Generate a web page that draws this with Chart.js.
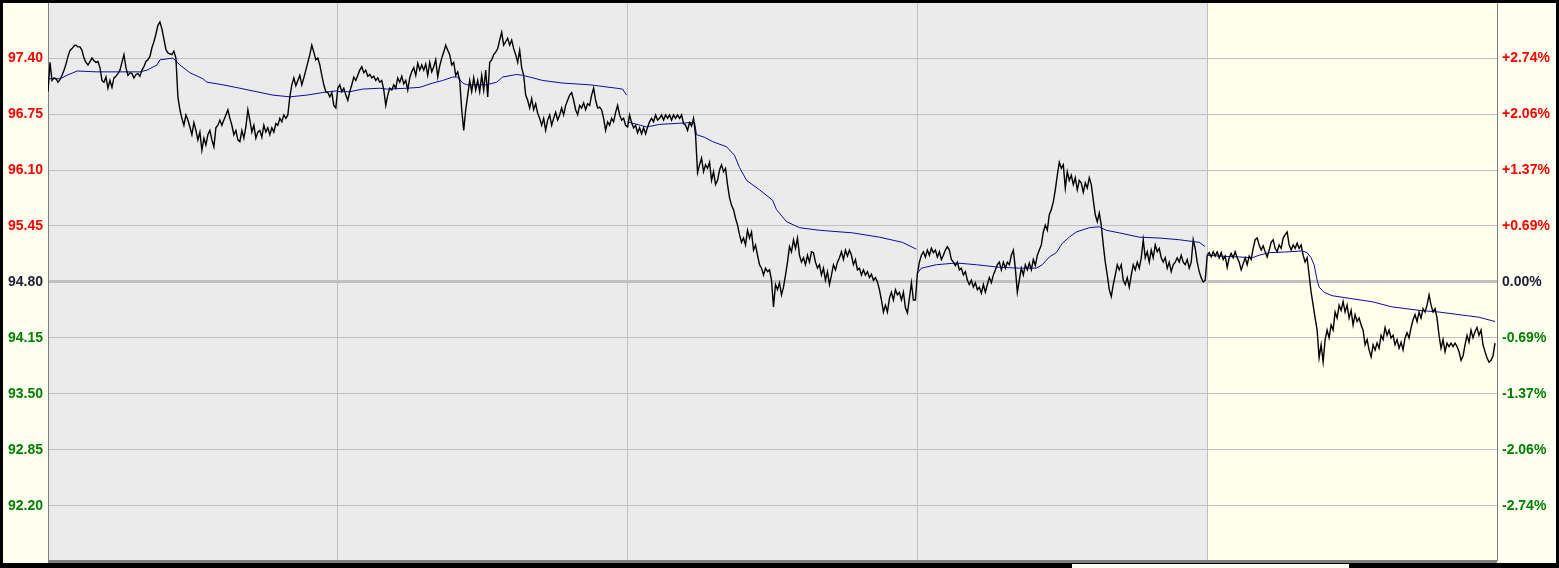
<!DOCTYPE html>
<html>
<head>
<meta charset="utf-8">
<script src="https://cdn.jsdelivr.net/npm/chart.js@4.4.1/dist/chart.umd.min.js"></script>
<style>
    html, body { margin: 0; padding: 0; background: #000; }
    #wrap { width: 1559px; height: 568px; }
</style>
</head>
<body>
<div id="wrap"><canvas id="priceChart" width="1559" height="568"></canvas></div>
<script>
// bars: each session is 290 bars wide, close sampled every 2 bars
const barsPerDay = 290;
const sampleStep = 2;
const basePrice = 94.80;
const axisMin = 91.57;
const axisMax = 98.04;
const priceTicks = [92.20, 92.85, 93.50, 94.15, 94.80, 95.45, 96.10, 96.75, 97.40];

const day1Close = [97.01,97.35,97.14,97.17,97.16,97.12,97.15,97.20,97.26,97.33,97.42,97.49,97.51,97.54,97.55,97.53,97.53,97.49,97.40,97.35,
    97.32,97.36,97.40,97.37,97.35,97.36,97.29,97.14,97.12,97.18,97.05,97.14,97.06,97.17,97.19,97.22,97.26,97.35,97.44,97.29,
    97.20,97.23,97.22,97.17,97.21,97.22,97.19,97.26,97.30,97.36,97.38,97.42,97.52,97.59,97.68,97.78,97.82,97.74,97.62,97.50,
    97.46,97.45,97.44,97.48,97.40,96.95,96.80,96.70,96.62,96.74,96.68,96.60,96.51,96.65,96.56,96.45,96.54,96.33,96.47,96.39,
    96.51,96.56,96.45,96.37,96.59,96.62,96.68,96.62,96.68,96.74,96.80,96.70,96.62,96.51,96.56,96.45,96.43,96.56,96.47,96.60,
    96.80,96.68,96.54,96.62,96.47,96.54,96.56,96.48,96.62,96.54,96.59,96.51,96.59,96.54,96.64,96.62,96.70,96.66,96.74,96.70,
    96.74,96.95,97.09,97.17,97.08,97.14,97.20,97.09,97.17,97.26,97.35,97.44,97.55,97.47,97.38,97.40,97.32,97.20,97.09,97.01,
    97.00,96.95,97.00,96.85,96.82];
const day2Close = [97.05,97.09,97.01,97.05,96.97,96.91,97.01,97.09,97.18,97.14,97.20,97.26,97.30,97.23,97.26,97.19,97.21,97.17,97.19,97.14,
    97.17,97.12,97.14,97.03,96.85,96.97,97.05,97.03,97.09,97.05,97.17,97.12,97.19,97.10,97.14,97.03,97.17,97.24,97.29,97.20,
    97.34,97.26,97.32,97.26,97.33,97.20,97.35,97.24,97.30,97.38,97.18,97.31,97.40,97.47,97.55,97.49,97.44,97.32,97.35,97.20,
    97.24,97.14,96.80,96.56,96.80,96.97,97.14,97.01,97.17,97.03,97.14,97.01,97.20,97.03,97.26,96.95,97.35,97.38,97.44,97.47,
    97.51,97.61,97.70,97.55,97.59,97.63,97.55,97.61,97.51,97.44,97.35,97.49,97.29,97.20,96.97,96.91,96.82,96.93,96.80,96.87,
    96.76,96.70,96.62,96.70,96.56,96.68,96.74,96.62,96.70,96.77,96.68,96.74,96.82,96.74,96.85,96.91,96.97,97.00,96.91,96.80,
    96.74,96.85,96.82,96.88,96.80,96.87,96.85,96.97,97.05,96.91,96.82,96.83,96.80,96.70,96.56,96.66,96.62,96.70,96.66,96.77,
    96.85,96.74,96.68,96.70,96.62];
const day3Close = [96.60,96.74,96.65,96.59,96.62,96.53,96.59,96.52,96.59,96.52,96.60,96.66,96.70,96.66,96.74,96.68,96.70,96.74,96.68,96.74,
    96.70,96.74,96.68,96.74,96.70,96.74,96.70,96.74,96.64,96.62,96.56,96.65,96.61,96.70,96.51,96.07,96.16,96.24,96.08,96.16,
    96.12,96.19,95.98,96.08,95.93,95.98,96.10,96.16,96.08,96.12,95.93,95.78,95.69,95.64,95.54,95.46,95.35,95.26,95.31,95.23,
    95.40,95.31,95.38,95.17,95.23,95.11,95.00,94.96,94.88,94.96,94.92,94.94,94.82,94.51,94.77,94.71,94.79,94.65,94.74,94.88,
    95.03,95.21,95.15,95.29,95.19,95.31,95.11,95.03,95.08,95.00,95.11,95.03,95.15,95.14,95.03,94.96,95.00,94.88,94.96,94.82,
    94.92,94.77,94.88,95.00,94.94,95.03,95.08,95.15,95.06,95.17,95.10,95.17,95.11,95.00,95.06,94.94,94.96,94.88,94.94,94.88,
    94.92,94.85,94.89,94.82,94.85,94.80,94.71,94.59,94.45,94.53,94.45,94.61,94.68,94.59,94.71,94.65,94.68,94.59,94.68,94.50,
    94.44,94.61,94.79,94.59,94.59];
const day4Close = [94.90,95.03,95.11,95.15,95.09,95.17,95.11,95.19,95.14,95.17,95.09,95.15,95.06,95.11,95.17,95.21,95.17,95.06,95.03,94.99,
    95.03,94.94,94.96,94.88,94.92,94.82,94.77,94.82,94.74,94.79,94.71,94.74,94.67,94.77,94.68,94.77,94.85,94.79,94.88,94.94,
    95.00,95.03,94.94,95.03,94.96,95.03,95.00,95.11,95.17,94.96,94.68,94.82,94.96,94.88,95.00,94.94,95.02,94.94,95.06,94.99,
    95.11,95.17,95.23,95.38,95.46,95.40,95.58,95.64,95.73,95.87,96.04,96.19,96.12,96.16,95.89,96.08,95.98,96.04,95.93,96.01,
    95.87,95.98,95.95,95.84,95.95,95.89,96.01,95.93,95.75,95.58,95.50,95.60,95.46,95.23,95.03,94.88,94.71,94.63,94.77,94.88,
    95.00,94.94,95.00,94.82,94.77,94.85,94.74,94.88,95.00,94.94,95.03,94.96,95.08,95.29,95.08,95.15,95.03,95.17,95.08,95.23,
    95.15,95.19,95.08,95.03,95.08,94.96,95.03,94.92,95.00,95.03,95.08,95.03,95.11,95.03,95.00,95.06,94.96,95.03,95.29,95.19,
    95.03,94.92,94.85,94.80,94.82];
const day5Close = [95.11,95.14,95.09,95.15,95.10,95.15,95.08,95.14,95.06,95.10,94.97,95.08,95.13,95.08,95.15,95.08,95.03,94.94,95.01,95.08,
    95.00,95.10,95.06,95.19,95.29,95.31,95.23,95.17,95.22,95.15,95.09,95.17,95.26,95.29,95.19,95.15,95.23,95.19,95.31,95.35,
    95.38,95.23,95.17,95.23,95.19,95.25,95.19,95.23,95.11,95.03,95.08,94.88,94.68,94.53,94.38,94.24,93.92,94.07,93.87,94.13,
    94.24,94.15,94.30,94.24,94.45,94.38,94.53,94.47,94.57,94.45,94.53,94.38,94.47,94.30,94.42,94.34,94.38,94.30,94.24,94.07,
    94.13,94.01,93.93,94.07,94.01,94.09,94.03,94.18,94.13,94.27,94.18,94.24,94.15,94.18,94.07,94.13,94.03,94.10,94.01,94.15,
    94.21,94.15,94.27,94.36,94.42,94.34,94.45,94.38,94.49,94.45,94.53,94.65,94.53,94.45,94.49,94.38,94.18,94.03,94.13,93.99,
    94.09,94.05,94.09,94.05,94.09,94.05,93.99,93.89,93.94,94.07,94.18,94.10,94.24,94.15,94.22,94.27,94.18,94.24,94.07,93.99,
    93.92,93.87,93.89,93.94,94.09];

// session average, [bar within the day, price]
const day1Avg = [[0,97.16],[5,97.16],[12,97.16],[19,97.20],[29,97.25],[49,97.24],[92,97.24],[99,97.26],[109,97.32],[112,97.38],
    [125,97.40],[132,97.32],[142,97.23],[155,97.16],[159,97.12],[175,97.09],[192,97.05],[225,96.97],[242,96.95],[259,96.97],
    [275,97.00],[289,97.02]];
const day2Avg = [[0,97.01],[12,97.01],[25,97.04],[42,97.05],[49,97.04],[69,97.05],[82,97.06],[95,97.11],[105,97.14],[115,97.18],
    [120,97.18],[125,97.11],[129,97.09],[149,97.09],[159,97.12],[165,97.18],[179,97.21],[185,97.20],[192,97.18],[205,97.14],
    [225,97.11],[252,97.09],[279,97.05],[285,97.04],[289,96.97]];
const day3Avg = [[0,96.66],[19,96.60],[32,96.63],[62,96.65],[67,96.65],[69,96.51],[77,96.48],[85,96.43],[99,96.37],[107,96.27],
    [112,96.13],[119,95.98],[132,95.87],[145,95.75],[149,95.64],[159,95.50],[172,95.43],[192,95.40],[225,95.37],[252,95.32],
    [275,95.26],[289,95.18]];
const day4Avg = [[0,94.90],[4,94.96],[19,95.00],[39,95.02],[59,95.00],[82,94.97],[102,94.96],[119,94.96],[125,95.00],[132,95.09],
    [139,95.14],[145,95.25],[152,95.32],[159,95.38],[172,95.43],[182,95.44],[189,95.40],[202,95.37],[222,95.32],[242,95.31],
    [262,95.29],[282,95.26],[288,95.21]];
const day5Avg = [[0,95.11],[12,95.10],[32,95.09],[45,95.08],[52,95.11],[62,95.14],[82,95.15],[95,95.16],[100,95.14],[104,95.08],
    [107,95.00],[110,94.82],[112,94.74],[117,94.68],[125,94.64],[142,94.61],[165,94.57],[185,94.51],[212,94.47],[232,94.45],
    [252,94.42],[272,94.39],[288,94.34]];

const closeDays = [day1Close, day2Close, day3Close, day4Close, day5Close];
const avgDays = [day1Avg, day2Avg, day3Avg, day4Avg, day5Avg];

const closeData = [];
closeDays.forEach((prices, d) => {
    prices.forEach((p, j) => closeData.push({ x: d * barsPerDay + j * sampleStep, y: p }));
});

// average restarts every session, so break the line between days
const avgData = [];
avgDays.forEach((pts, d) => {
    if (d > 0) avgData.push({ x: d * barsPerDay - 0.5, y: null });
    pts.forEach(([b, p]) => avgData.push({ x: d * barsPerDay + b, y: p }));
});

const labelFont = { family: 'Arial, "Liberation Sans", sans-serif', size: 14, weight: 'bold' };

function priceColor(v) {
    if (v > basePrice + 0.001) return '#ff0000';
    if (v < basePrice - 0.001) return '#008000';
    return '#20203c';
}

const panelBackground = {
    id: 'panelBackground',
    beforeDraw(chart) {
        const { ctx, chartArea: a, scales: { x } } = chart;
        ctx.save();
        ctx.fillStyle = '#fffff0';
        ctx.fillRect(0, 0, chart.width, chart.height);
        ctx.fillStyle = '#ebebeb';
        ctx.fillRect(a.left, a.top, a.right - a.left, a.bottom - a.top);
        const lastDay = x.getPixelForValue(4 * barsPerDay);
        ctx.fillStyle = '#ffffeb';
        ctx.fillRect(lastDay, a.top, a.right - lastDay, a.bottom - a.top);
        ctx.restore();
    },
    afterDraw(chart) {
        const { ctx, chartArea: a, width: w, height: h } = chart;
        ctx.save();
        ctx.fillStyle = '#808080';
        ctx.fillRect(a.left, a.bottom, a.right - a.left, 3);
        ctx.fillStyle = '#000';
        ctx.fillRect(0, 0, w, 3);
        ctx.fillRect(0, 0, 3, h);
        ctx.fillRect(w - 3, 0, 3, h);
        ctx.fillRect(0, a.bottom + 3, w, h - a.bottom - 3);
        // scroll thumb
        ctx.fillStyle = '#fffff0';
        ctx.fillRect(1071, a.bottom + 4, 278, 4);
        ctx.strokeStyle = '#000';
        ctx.lineWidth = 1;
        ctx.strokeRect(1071.5, a.bottom + 3.5, 278, 6);
        ctx.restore();
    }
};

new Chart(document.getElementById('priceChart').getContext('2d'), {
    type: 'line',
    data: {
        datasets: [{
            label: 'Close',
            data: closeData,
            borderColor: '#000000',
            borderWidth: 1.4,
            pointRadius: 0,
            tension: 0
        }, {
            label: 'Average',
            data: avgData,
            borderColor: '#0c0ca8',
            borderWidth: 1,
            pointRadius: 0,
            tension: 0,
            spanGaps: false
        }]
    },
    options: {
        responsive: false,
        animation: false,
        events: [],
        layout: { padding: { left: 3, right: 3, top: 3, bottom: 8 } },
        plugins: { legend: { display: false }, tooltip: { enabled: false } },
        scales: {
            x: {
                type: 'linear',
                min: 0,
                max: 5 * barsPerDay,
                ticks: { display: false },
                afterBuildTicks: s => { s.ticks = [0, 1, 2, 3, 4, 5].map(d => ({ value: d * barsPerDay })); },
                afterFit: s => { s.height = 0; s.paddingLeft = 0; s.paddingRight = 0; },
                grid: {
                    drawTicks: false,
                    color: c => (c.tick && (c.tick.value === 0 || c.tick.value === 5 * barsPerDay)) ? 'rgba(0,0,0,0)' : '#c0c0c0'
                },
                border: { display: false }
            },
            y: {
                position: 'left',
                min: axisMin,
                max: axisMax,
                afterBuildTicks: s => { s.ticks = priceTicks.map(v => ({ value: v })); },
                afterFit: s => { s.width = 45; s.paddingTop = 0; s.paddingBottom = 0; },
                ticks: {
                    autoSkip: false,
                    padding: 5,
                    font: labelFont,
                    color: c => priceColor(c.tick.value),
                    callback: v => v.toFixed(2)
                },
                grid: {
                    drawTicks: false,
                    color: '#c0c0c0',
                    lineWidth: c => Math.abs(c.tick.value - basePrice) < 0.001 ? 3 : 1
                },
                border: { display: true, color: '#808080', width: 1 }
            },
            yPct: {
                position: 'right',
                min: axisMin,
                max: axisMax,
                afterBuildTicks: s => { s.ticks = priceTicks.map(v => ({ value: v })); },
                afterFit: s => { s.width = 59; s.paddingTop = 0; s.paddingBottom = 0; },
                ticks: {
                    autoSkip: false,
                    padding: 5,
                    font: labelFont,
                    color: c => priceColor(c.tick.value),
                    callback: v => {
                        const pct = (v / basePrice - 1) * 100;
                        return (pct > 0.0001 ? '+' : '') + pct.toFixed(2) + '%';
                    }
                },
                grid: { display: false, drawTicks: false },
                border: { display: true, color: '#808080', width: 1 }
            }
        }
    },
    plugins: [panelBackground]
});
</script>
</body>
</html>
